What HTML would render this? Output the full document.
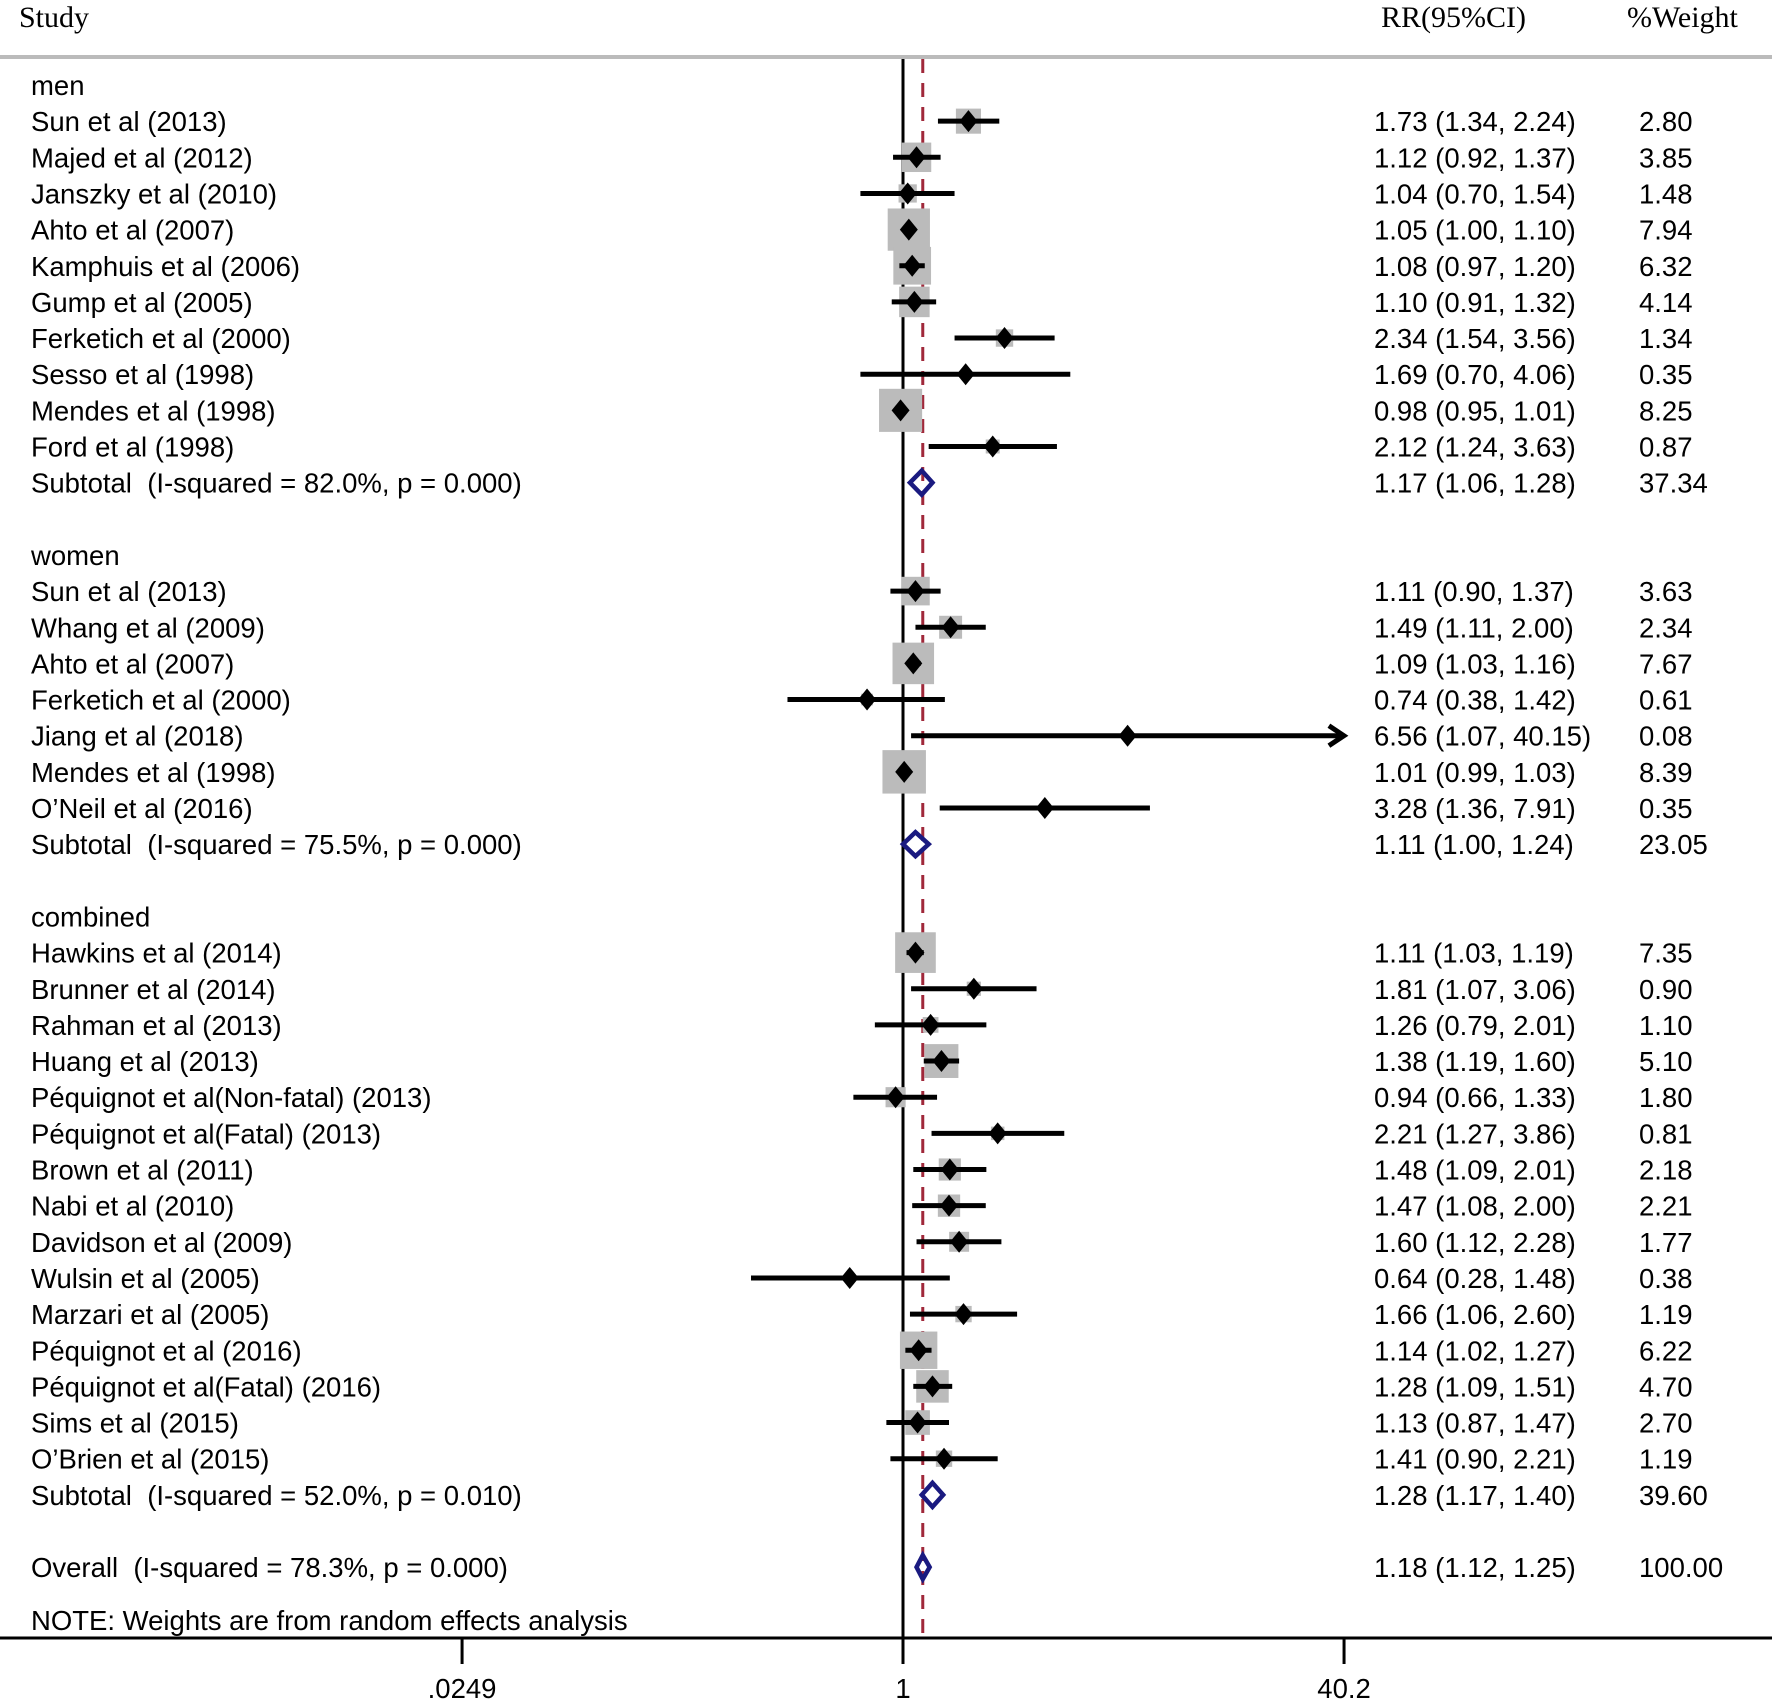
<!DOCTYPE html>
<html><head><meta charset="utf-8"><style>
html,body{margin:0;padding:0;background:#fff;}
svg{display:block;}
.t{font-family:"Liberation Sans",Arial,sans-serif;font-size:27.5px;fill:#000;white-space:pre;}
.h{font-family:"Liberation Serif",serif;font-size:30px;fill:#000;}
</style></head><body>
<svg id="c" width="1772" height="1701" viewBox="0 0 1772 1701" xmlns="http://www.w3.org/2000/svg">
<text class="h" x="19" y="27">Study</text>
<text class="h" x="1381" y="27">RR(95%CI)</text>
<text class="h" x="1627" y="27">%Weight</text>
<rect x="0" y="55" width="1772" height="4" fill="#bbb"/>
<g id="plot"></g>
</svg>
<script>
const labels=["men","Sun et al (2013)","Majed et al (2012)","Janszky et al (2010)","Ahto et al (2007)","Kamphuis et al (2006)","Gump et al (2005)","Ferketich et al (2000)","Sesso et al (1998)","Mendes et al (1998)","Ford et al (1998)","Subtotal  (I-squared = 82.0%, p = 0.000)","",
"women","Sun et al (2013)","Whang et al (2009)","Ahto et al (2007)","Ferketich et al (2000)","Jiang et al (2018)","Mendes et al (1998)","O\u2019Neil et al (2016)","Subtotal  (I-squared = 75.5%, p = 0.000)","",
"combined","Hawkins et al (2014)","Brunner et al (2014)","Rahman et al (2013)","Huang et al (2013)","Péquignot et al(Non-fatal) (2013)","Péquignot et al(Fatal) (2013)","Brown et al (2011)","Nabi et al (2010)","Davidson et al (2009)","Wulsin et al (2005)","Marzari et al (2005)","Péquignot et al (2016)","Péquignot et al(Fatal) (2016)","Sims et al (2015)","O\u2019Brien et al (2015)","Subtotal  (I-squared = 52.0%, p = 0.010)","",
"Overall  (I-squared = 78.3%, p = 0.000)"];
// kind: 0 header, 1 study, 2 subtotal, 3 blank
const kinds=[0,1,1,1,1,1,1,1,1,1,1,2,3, 0,1,1,1,1,1,1,1,2,3, 0,1,1,1,1,1,1,1,1,1,1,1,1,1,1,1,2,3, 2];
const est=[0,1.73,1.12,1.04,1.05,1.08,1.10,2.34,1.69,0.98,2.12,1.17,0, 0,1.11,1.49,1.09,0.74,6.56,1.01,3.28,1.11,0, 0,1.11,1.81,1.26,1.38,0.94,2.21,1.48,1.47,1.60,0.64,1.66,1.14,1.28,1.13,1.41,1.28,0, 1.18];
const lo=[0,1.34,0.92,0.70,1.00,0.97,0.91,1.54,0.70,0.95,1.24,1.06,0, 0,0.90,1.11,1.03,0.38,1.07,0.99,1.36,1.00,0, 0,1.03,1.07,0.79,1.19,0.66,1.27,1.09,1.08,1.12,0.28,1.06,1.02,1.09,0.87,0.90,1.17,0, 1.12];
const hi=[0,2.24,1.37,1.54,1.10,1.20,1.32,3.56,4.06,1.01,3.63,1.28,0, 0,1.37,2.00,1.16,1.42,40.15,1.03,7.91,1.24,0, 0,1.19,3.06,2.01,1.60,1.33,3.86,2.01,2.00,2.28,1.48,2.60,1.27,1.51,1.47,2.21,1.40,0, 1.25];
const weights=[0,2.80,3.85,1.48,7.94,6.32,4.14,1.34,0.35,8.25,0.87,37.34,0, 0,3.63,2.34,7.67,0.61,0.08,8.39,0.35,23.05,0, 0,7.35,0.90,1.10,5.10,1.80,0.81,2.18,2.21,1.77,0.38,1.19,6.22,4.70,2.70,1.19,39.60,0, 100.00];
const tickVals=[0.0249,1,40.2];
const tickLabels=[".0249","1","40.2"];
const overall=1.18;

const NS="http://www.w3.org/2000/svg";
const g=document.getElementById('plot');
const X0=903,PX=119.4,XMAX=40.2,XMIN=0.0249;
const xs=v=>X0+Math.log(v)*PX;
const ys=i=>85+i*36.15;
const AXY=1638;
function mk(t,a){const e=document.createElementNS(NS,t);for(const k in a)e.setAttribute(k,a[k]);g.appendChild(e);return e;}
function fmt(v){return v.toFixed(2);}

let e=mk('line',{x1:X0,y1:59,x2:X0,y2:AXY,stroke:'#000','stroke-width':3});


e=mk('line',{x1:xs(overall),y1:59,x2:xs(overall),y2:AXY,stroke:'#a0283a','stroke-width':3,'stroke-dasharray':'14,10'});



labels.forEach((lab,i)=>{
  const y=ys(i),k=kinds[i];
  if(k===3)return;
  const t=mk('text',{x:31,y:y+10,class:'t'});t.textContent=lab;
  
  
  if(k===0)return;
  const r=mk('text',{x:1374,y:y+10,class:'t'});r.textContent=fmt(est[i])+" ("+fmt(lo[i])+", "+fmt(hi[i])+")";
  
  
  const w=mk('text',{x:1639,y:y+10,class:'t'});w.textContent=fmt(weights[i]);
  
  
  if(k===1){
    const s=15*Math.sqrt(weights[i]);
    const sq=mk('rect',{x:xs(est[i])-s/2,y:y-s/2,width:s,height:s,fill:'#bbb'});
    
    
    const h=Math.min(hi[i],XMAX);
    const ln=mk('line',{x1:xs(lo[i]),y1:y,x2:xs(h)-(hi[i]>XMAX*0.99?4:0),y2:y,stroke:'#000','stroke-width':5});
    
    
    if(hi[i]>=XMAX*0.99){
      const ar=mk('polyline',{points:(xs(h)-15)+','+(y-10)+' '+xs(h)+','+y+' '+(xs(h)-15)+','+(y+10),fill:'none',stroke:'#000','stroke-width':5});
      
      
    }
    const cx=xs(est[i]);
    const d=mk('polygon',{points:`${cx-9},${y} ${cx},${y-11} ${cx+9},${y} ${cx},${y+11}`,fill:'#000'});
    
    
  } else {
    const a=xs(lo[i]),b=xs(hi[i]),c=xs(est[i]);
    const d=mk('polygon',{points:`${a},${y} ${c},${y-12} ${b},${y} ${c},${y+12}`,fill:'none',stroke:'#1a1a80','stroke-width':4.5});
    
    
  }
});
e=mk('text',{x:31,y:1630,class:'t'});e.textContent="NOTE: Weights are from random effects analysis";


e=mk('line',{x1:0,y1:AXY,x2:1772,y2:AXY,stroke:'#000','stroke-width':3});


tickVals.forEach((v,j)=>{
  const x=xs(v);
  const tk=mk('line',{x1:x,y1:AXY,x2:x,y2:1664,stroke:'#000','stroke-width':3});
  
  
  const tl=mk('text',{x:x,y:1698,class:'t','text-anchor':'middle'});tl.textContent=tickLabels[j];
  
  
});
</script>
</body></html>
